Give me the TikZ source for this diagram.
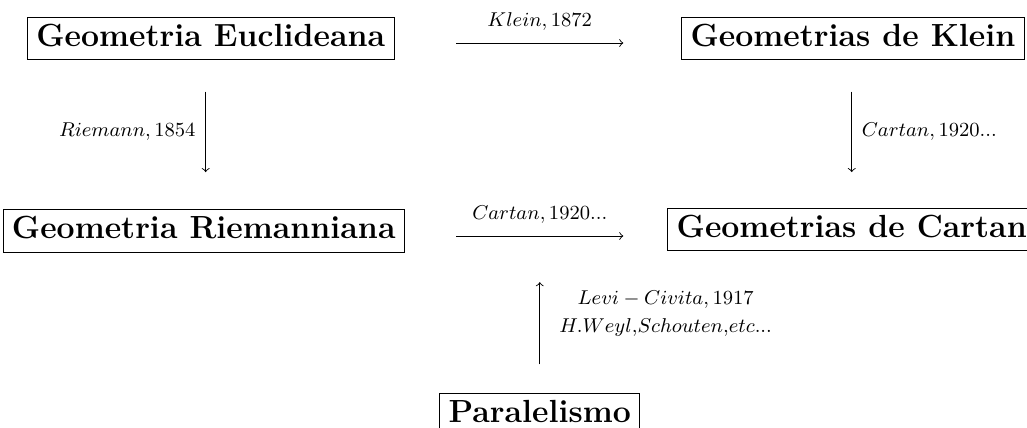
\documentclass[tikz,border=0pt]{standalone}
\usepackage{amsmath,amssymb}
\usepackage{tikz}
\tikzset{caixa/.style={draw, thin, font=\Large\bfseries, inner xsep=4pt, inner ysep=2pt,
    text height=11pt, text depth=4pt},
  rotulo/.style={font=\small}}

\begin{document}
\begin{tikzpicture}
  \useasboundingbox (0, 0) rectangle (16.23, 6.76);

  \node[caixa] at (3.33, 6.15) (euclid) {Geometria Euclideana};
  \node[caixa] at (13.48, 6.15) (klein) {Geometrias de Klein};
  \node[caixa] at (3.22, 3.11) (riem) {Geometria Riemanniana};
  \node[caixa] at (13.46, 3.13) (cartan) {Geometrias de Cartan};
  \node[caixa] at (8.53, 0.21) (paral) {Paralelismo\ };

  % extremos das setas
  \coordinate (a1) at (7.21, 6.08);
  \coordinate (a2) at (9.85, 6.08);
  \coordinate (b1) at (7.21, 3.03);
  \coordinate (b2) at (9.85, 3.03);
  \coordinate (c1) at (3.25, 5.31);
  \coordinate (c2) at (3.25, 4.04);
  \coordinate (d1) at (13.46, 5.31);
  \coordinate (d2) at (13.46, 4.04);
  \coordinate (e1) at (8.53, 1.00);
  \coordinate (e2) at (8.53, 2.30);

  \draw[->] (a1) -- (a2) node[rotulo, midway, above=2pt] {$Klein, 1872$};
  \draw[->] (b1) -- (b2) node[rotulo, midway, above=2pt] {$Cartan, 1920...$};
  \draw[->] (c1) -- (c2) node[rotulo, midway, left=1pt] {$Riemann, 1854$};
  \draw[->] (d1) -- (d2) node[rotulo, midway, right=1pt] {$Cartan, 1920...$};
  \draw[->] (e1) -- (e2);

  \node[rotulo] at (10.52, 2.02) (levi) {$Levi-Civita, 1917$};
  \node[rotulo] at (10.52, 1.59) (weyl) {$H.Weyl$,$Schouten$,$etc...$};
\end{tikzpicture}
\end{document}
